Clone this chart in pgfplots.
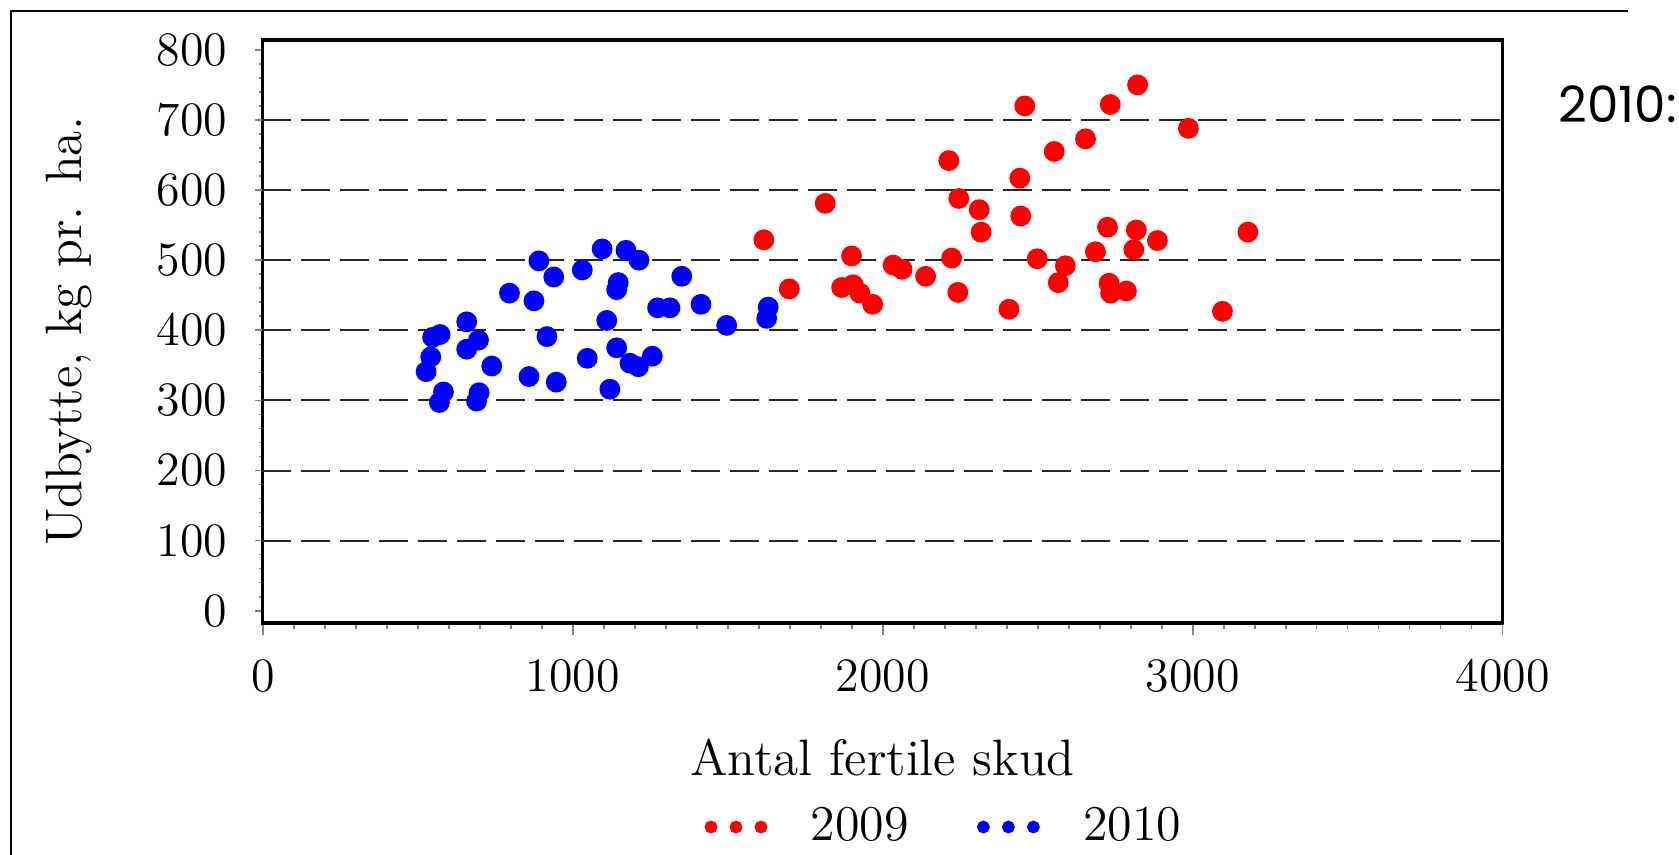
\documentclass[border=0pt]{standalone}
\usepackage{pgfplots}
\pgfplotsset{compat=1.18}
\usepackage{fontspec}
\newfontfamily\popfont{Poppins}

\pgfplotstableread{
x y
1616 529
1698 459
1814 581
1899 506
1867 461
1904 465
1926 453
1967 437
2033 493
2062 487
2138 477
2213 642
2245 588
2311 572
2317 540
2222 503
2242 454
2407 430
2458 720
2442 617
2445 563
2498 502
2553 655
2589 492
2566 468
2654 673
2734 722
2822 750
2686 512
2725 547
2730 467
2735 453
2786 456
2818 543
2810 515
2886 528
2986 688
3096 427
3178 540
}\redtab

\pgfplotstableread{
x y
547 390
571 394
541 362
526 341
582 312
569 297
657 412
657 373
695 386
738 349
697 311
689 299
795 453
874 442
890 499
938 476
916 391
858 334
946 326
1030 486
1094 516
1146 468
1141 458
1171 514
1213 500
1109 414
1046 360
1141 375
1119 316
1184 353
1211 348
1256 363
1273 432
1313 432
1351 477
1413 437
1496 407
1630 433
1625 417
}\bluetab

\begin{document}
\begin{tikzpicture}
\useasboundingbox (0,0) rectangle (419.75pt,213.75pt);
\draw[line width=0.5pt] (2.7pt,0pt) -- (2.7pt,211.1pt) -- (407pt,211.1pt);
\node[anchor=west, inner sep=0pt, font=\popfont\fontsize{12.5}{14}\selectfont] at (389.5pt,187.8pt) {2010:};
\begin{axis}[
  at={(65.6pt,58pt)}, anchor=south west,
  scale only axis, width=310.05pt, height=145.75pt,
  xmin=-2.3, xmax=4000, ymin=-17.5, ymax=814,
  axis line style={line width=0.9pt},
  tick align=outside,
  xtick pos=bottom, ytick pos=left,
  xtick={0,1000,...,4000}, ytick={0,100,...,800},
  minor x tick num=9, minor y tick num=4,
  major x tick style={line width=0.4pt, /pgfplots/major tick length=3pt},
  minor x tick style={line width=0.4pt, /pgfplots/minor tick length=1.5pt},
  major y tick style={line width=0.4pt, /pgfplots/major tick length=1.8pt},
  minor y tick style={line width=0.4pt, /pgfplots/minor tick length=0.9pt},
  extra y ticks={100,200,...,700},
  extra y tick labels={},
  extra y tick style={grid=major, major tick length=0pt},
  major grid style={black!85, line width=0.5pt, dash pattern=on 7.25pt off 2.5pt},
  /pgf/number format/1000 sep={},
  tick label style={font=\fontsize{12}{14}\selectfont},
  xticklabel style={yshift=-1.5pt},
  yticklabel style={xshift=-1pt},
  xlabel={Antal fertile skud},
  ylabel={Udbytte, kg pr. ha.},
  label style={font=\fontsize{12.8}{15}\selectfont},
  xlabel style={at={(axis description cs:0.5,-0.23)}, anchor=center},
  ylabel style={at={(axis description cs:-0.156,0.5)}, anchor=center},
  legend columns=2,
  legend style={at={(axis description cs:0.552,-0.35)}, anchor=center, draw=none, fill=none,
    font=\fontsize{12.5}{14}\selectfont,
    /tikz/every even column/.append style={column sep=15pt}},
  legend image code/.code={
    \fill (0pt,0pt) circle (1.4pt);
    \fill (6.25pt,0pt) circle (1.4pt);
    \fill (12.5pt,0pt) circle (1.4pt);
    \path[draw=none, fill=none] (-1.4pt,0pt) rectangle (23pt,0.1pt);
  },
]
\addplot[only marks, mark=*, mark size=2.4pt, color=red] table[x=x,y=y] {\redtab};
\addplot[only marks, mark=*, mark size=2.4pt, color=blue] table[x=x,y=y] {\bluetab};
\legend{2009,2010}
\end{axis}
\end{tikzpicture}
\end{document}
